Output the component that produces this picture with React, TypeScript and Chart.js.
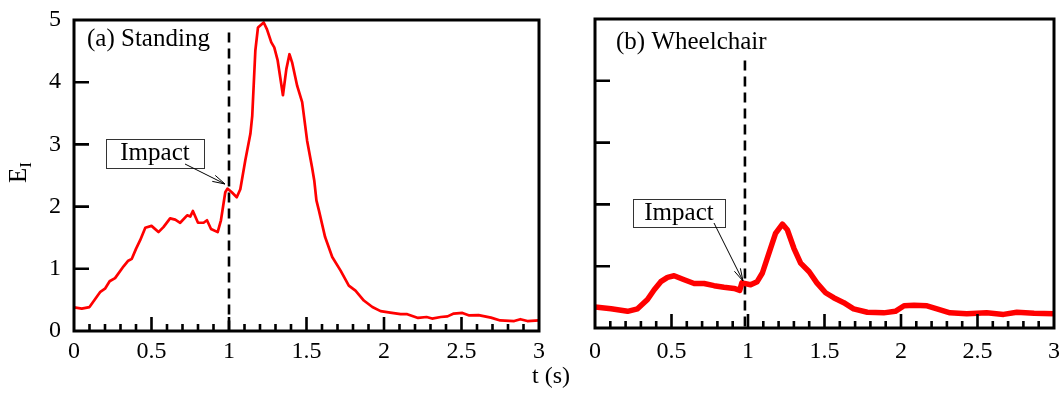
import React, { useEffect, useRef } from "react";
import { Chart, registerables } from "chart.js";

Chart.register(...registerables);

// ---- axis ticks ----
const X_TICKS = [0, 0.5, 1, 1.5, 2, 2.5, 3];
const X_TICK_LABELS = ["0", "0.5", "1", "1.5", "2", "2.5", "3"];
const Y_TICKS = [0, 1, 2, 3, 4, 5];
const Y_TICK_LABELS = ["0", "1", "2", "3", "4", "5"];

// ---- (a) Standing ----
const standingT = [
  0.0, 0.05, 0.1, 0.17, 0.2, 0.23, 0.265, 0.32, 0.35, 0.373, 0.4, 0.427, 0.46, 0.5,
  0.545, 0.577, 0.62, 0.653, 0.685, 0.73, 0.75, 0.767, 0.8, 0.836, 0.858, 0.884,
  0.927, 0.948, 0.976, 0.99, 1.018, 1.05, 1.073, 1.105, 1.138, 1.15, 1.17, 1.187,
  1.224, 1.245, 1.273, 1.292, 1.314, 1.348, 1.37, 1.39, 1.407, 1.44, 1.472, 1.504,
  1.536, 1.55, 1.564, 1.58, 1.62, 1.666, 1.72, 1.773, 1.816, 1.87, 1.925, 1.978,
  2.04, 2.107, 2.15, 2.22, 2.275, 2.31, 2.366, 2.41, 2.45, 2.506, 2.55, 2.61, 2.69,
  2.75, 2.84, 2.88, 2.925, 3.0,
];
const standingE = [
  0.38, 0.36, 0.385, 0.63, 0.68, 0.8, 0.85, 1.04, 1.13, 1.16, 1.32, 1.46, 1.66, 1.69,
  1.59, 1.67, 1.81, 1.79, 1.74, 1.86, 1.84, 1.93, 1.74, 1.74, 1.78, 1.64,
  1.59, 1.78, 2.23, 2.29, 2.23, 2.15, 2.28, 2.74, 3.17, 3.46, 4.51, 4.88,
  4.96, 4.85, 4.64, 4.56, 4.35, 3.79, 4.21, 4.45, 4.32, 3.94, 3.68, 3.06,
  2.63, 2.42, 2.1, 1.94, 1.51, 1.19, 0.97, 0.73, 0.65, 0.49, 0.385, 0.32,
  0.295, 0.27, 0.27, 0.21, 0.225, 0.2, 0.225, 0.235, 0.28, 0.29, 0.25, 0.255, 0.215,
  0.17, 0.16, 0.19, 0.16, 0.17,
];

// ---- (b) Wheelchair ----
const wheelchairT = [
  0.0, 0.105, 0.213, 0.278, 0.343, 0.387, 0.43, 0.474, 0.517, 0.583, 0.648, 0.713,
  0.778, 0.843, 0.909, 0.946, 0.96, 1.017, 1.06, 1.094, 1.137, 1.18, 1.225, 1.257,
  1.3, 1.344, 1.4, 1.45, 1.507, 1.56, 1.626, 1.69, 1.78, 1.887, 1.963, 2.02, 2.085,
  2.17, 2.235, 2.32, 2.43, 2.56, 2.67, 2.757, 2.87, 3.0,
];
const wheelchairE = [
  0.34, 0.31, 0.27, 0.31, 0.46, 0.62, 0.75, 0.82, 0.845, 0.78, 0.72, 0.72,
  0.685, 0.66, 0.64, 0.61, 0.73, 0.7, 0.75, 0.89, 1.21, 1.53, 1.68, 1.59,
  1.29, 1.05, 0.91, 0.73, 0.57, 0.49, 0.41, 0.31, 0.255, 0.245, 0.27, 0.36, 0.37,
  0.36, 0.31, 0.245, 0.23, 0.245, 0.22, 0.255, 0.24, 0.23,
];

const PANEL_TITLES = ["(a) Standing", "(b) Wheelchair"];
const ANNOTATION_TEXT = "Impact";
const IMPACT_T = [1.0, 0.98];
const DASH_TOP = [4.8, 4.33];
const X_TITLE = "t (s)";
const Y_TITLE_MAIN = "E";
const Y_TITLE_SUB = "I";

const FONT = '"Liberation Serif", "Times New Roman", Times, serif';
const H = 394;

type PanelProps = {
  left: number;
  width: number;
  t: number[];
  e: number[];
  lineWidth: number;
  area: { left: number; right: number; top: number; bottom: number };
  showY: boolean;
  title: string;
  titlePos: [number, number];
  impactT: number;
  dashTop: number;
  box: { x0: number; x1: number; y0: number; y1: number; baseline: number };
  arrow: { x0: number; y0: number; x1: number; y1: number };
  axisTitles: boolean;
  tickPad: number;
};

function Panel(p: PanelProps) {
  const ref = useRef<HTMLCanvasElement | null>(null);

  useEffect(() => {
    const canvas = ref.current;
    if (!canvas) return;

    const deco = {
      id: "deco" + p.title,
      beforeDatasetsDraw(chart: any) {
        const ctx = chart.ctx;
        const xs = chart.scales.x;
        const ys = chart.scales.y;
        const x = xs.getPixelForValue(p.impactT);
        ctx.save();
        ctx.strokeStyle = "#000";
        ctx.lineWidth = 2.6;
        ctx.setLineDash([10, 6]);
        ctx.beginPath();
        ctx.moveTo(x, ys.getPixelForValue(p.dashTop));
        ctx.lineTo(x, ys.getPixelForValue(0));
        ctx.stroke();
        ctx.restore();
      },
      afterDraw(chart: any) {
        const ctx = chart.ctx;
        const a = chart.chartArea;
        const xs = chart.scales.x;
        const ys = chart.scales.y;
        ctx.save();
        ctx.strokeStyle = "#000";
        ctx.lineWidth = 3;
        ctx.setLineDash([]);
        ctx.strokeRect(a.left, a.top, a.right - a.left, a.bottom - a.top);

        // y ticks (inward, left side)
        ctx.lineWidth = 2.6;
        ctx.beginPath();
        for (const v of Y_TICKS) {
          if (v === Y_TICKS[0] || v === Y_TICKS[Y_TICKS.length - 1]) continue;
          const y = ys.getPixelForValue(v);
          ctx.moveTo(a.left, y);
          ctx.lineTo(a.left + 15, y);
        }
        // x ticks (inward, minor every 0.1, major every 0.5)
        for (let i = 1; i < 30; i++) {
          const v = i / 10;
          const x = xs.getPixelForValue(v);
          const len = i % 5 === 0 ? 14 : 7;
          ctx.moveTo(x, a.bottom);
          ctx.lineTo(x, a.bottom - len);
        }
        ctx.stroke();

        // panel title
        ctx.fillStyle = "#000";
        ctx.font = `25px ${FONT}`;
        ctx.textAlign = "left";
        ctx.textBaseline = "alphabetic";
        ctx.fillText(p.title, p.titlePos[0], p.titlePos[1]);

        // annotation box
        const b = p.box;
        ctx.fillStyle = "#fff";
        ctx.fillRect(b.x0, b.y0, b.x1 - b.x0, b.y1 - b.y0);
        ctx.strokeStyle = "#333";
        ctx.lineWidth = 1;
        ctx.strokeRect(b.x0 + 0.5, b.y0 + 0.5, b.x1 - b.x0, b.y1 - b.y0);
        ctx.fillStyle = "#000";
        ctx.textAlign = "center";
        ctx.fillText(ANNOTATION_TEXT, (b.x0 + b.x1) / 2, b.baseline);

        // arrow
        const ar = p.arrow;
        ctx.strokeStyle = "#000";
        ctx.lineWidth = 1;
        ctx.beginPath();
        ctx.moveTo(ar.x0, ar.y0);
        ctx.lineTo(ar.x1, ar.y1);
        const ang = Math.atan2(ar.y1 - ar.y0, ar.x1 - ar.x0);
        const hl = 13;
        const spread = 0.26;
        ctx.moveTo(ar.x1, ar.y1);
        ctx.lineTo(ar.x1 - hl * Math.cos(ang - spread), ar.y1 - hl * Math.sin(ang - spread));
        ctx.moveTo(ar.x1, ar.y1);
        ctx.lineTo(ar.x1 - hl * Math.cos(ang + spread), ar.y1 - hl * Math.sin(ang + spread));
        ctx.stroke();

        if (p.axisTitles) {
          // x title
          ctx.font = `24px ${FONT}`;
          ctx.textAlign = "left";
          ctx.fillText(X_TITLE, 532, 383);
          // y title E_I rotated
          ctx.save();
          ctx.translate(26, 183);
          ctx.rotate(-Math.PI / 2);
          ctx.font = `25px ${FONT}`;
          ctx.textAlign = "left";
          ctx.fillText(Y_TITLE_MAIN, 0, 0);
          const w = ctx.measureText(Y_TITLE_MAIN).width;
          ctx.font = `17px ${FONT}`;
          ctx.fillText(Y_TITLE_SUB, w, 5);
          ctx.restore();
        }
        ctx.restore();
      },
    };

    const chart = new Chart(canvas, {
      type: "line",
      data: {
        datasets: [
          {
            data: p.t.map((x, i) => ({ x, y: p.e[i] })),
            borderColor: "#ff0000",
            backgroundColor: "#ff0000",
            borderWidth: p.lineWidth,
            pointRadius: 0,
            tension: 0,
            fill: false,
            borderJoinStyle: "round",
            borderCapStyle: "round",
          },
        ],
      },
      options: {
        animation: false,
        responsive: false,
        maintainAspectRatio: false,
        events: [],
        layout: {
          padding: {
            left: 0,
            right: p.width - p.area.right,
            top: p.area.top,
            bottom: 0,
          },
        },
        plugins: {
          legend: { display: false },
          tooltip: { enabled: false },
          title: { display: false },
        },
        scales: {
          x: {
            type: "linear",
            min: 0,
            max: 3,
            afterBuildTicks: (s: any) => {
              s.ticks = X_TICKS.map((v) => ({ value: v }));
            },
            afterFit: (s: any) => {
              s.height = H - p.area.bottom;
              s.paddingLeft = 0;
              s.paddingRight = 0;
            },
            ticks: {
              callback: (_v: any, i: number) => X_TICK_LABELS[i],
              font: { family: FONT, size: 24 },
              color: "#000",
              padding: p.tickPad,
              maxRotation: 0,
              autoSkip: false,
            },
            grid: { display: false, drawTicks: false },
            border: { display: false },
          },
          y: {
            type: "linear",
            display: true,
            min: 0,
            max: 5,
            afterBuildTicks: (s: any) => {
              s.ticks = Y_TICKS.map((v) => ({ value: v }));
            },
            afterFit: (s: any) => {
              s.width = p.area.left;
              s.paddingTop = 0;
              s.paddingBottom = 0;
            },
            ticks: {
              display: p.showY,
              callback: (_v: any, i: number) => Y_TICK_LABELS[i],
              font: { family: FONT, size: 24 },
              color: "#000",
              padding: 13,
              autoSkip: false,
            },
            grid: { display: false, drawTicks: false },
            border: { display: false },
          },
        },
      } as any,
      plugins: [deco],
    });

    return () => chart.destroy();
  }, []);

  return (
    <canvas
      ref={ref}
      width={p.width}
      height={H}
      style={{ position: "absolute", left: p.left, top: 0, width: p.width, height: H }}
    />
  );
}

export default function App() {
  return (
    <div
      style={{
        position: "fixed",
        left: 0,
        top: 0,
        width: 1063,
        height: H,
        background: "#fff",
        overflow: "hidden",
      }}
    >
      <Panel
        left={0}
        width={580}
        t={standingT}
        e={standingE}
        lineWidth={2.7}
        area={{ left: 74, right: 539, top: 20, bottom: 331 }}
        showY={true}
        title={PANEL_TITLES[0]}
        titlePos={[87, 46]}
        impactT={IMPACT_T[0]}
        dashTop={DASH_TOP[0]}
        box={{ x0: 106, x1: 204, y0: 139, y1: 168, baseline: 160 }}
        arrow={{ x0: 185, y0: 164, x1: 225, y1: 184 }}
        axisTitles={true}
        tickPad={6}
      />
      <Panel
        left={560}
        width={503}
        t={wheelchairT}
        e={wheelchairE}
        lineWidth={5.5}
        area={{ left: 35, right: 494, top: 19, bottom: 328 }}
        showY={false}
        title={PANEL_TITLES[1]}
        titlePos={[56, 49]}
        impactT={IMPACT_T[1]}
        dashTop={DASH_TOP[1]}
        box={{ x0: 73, x1: 165, y0: 199, y1: 227, baseline: 220 }}
        arrow={{ x0: 154, y0: 223, x1: 183, y1: 281 }}
        axisTitles={false}
        tickPad={9}
      />
    </div>
  );
}
